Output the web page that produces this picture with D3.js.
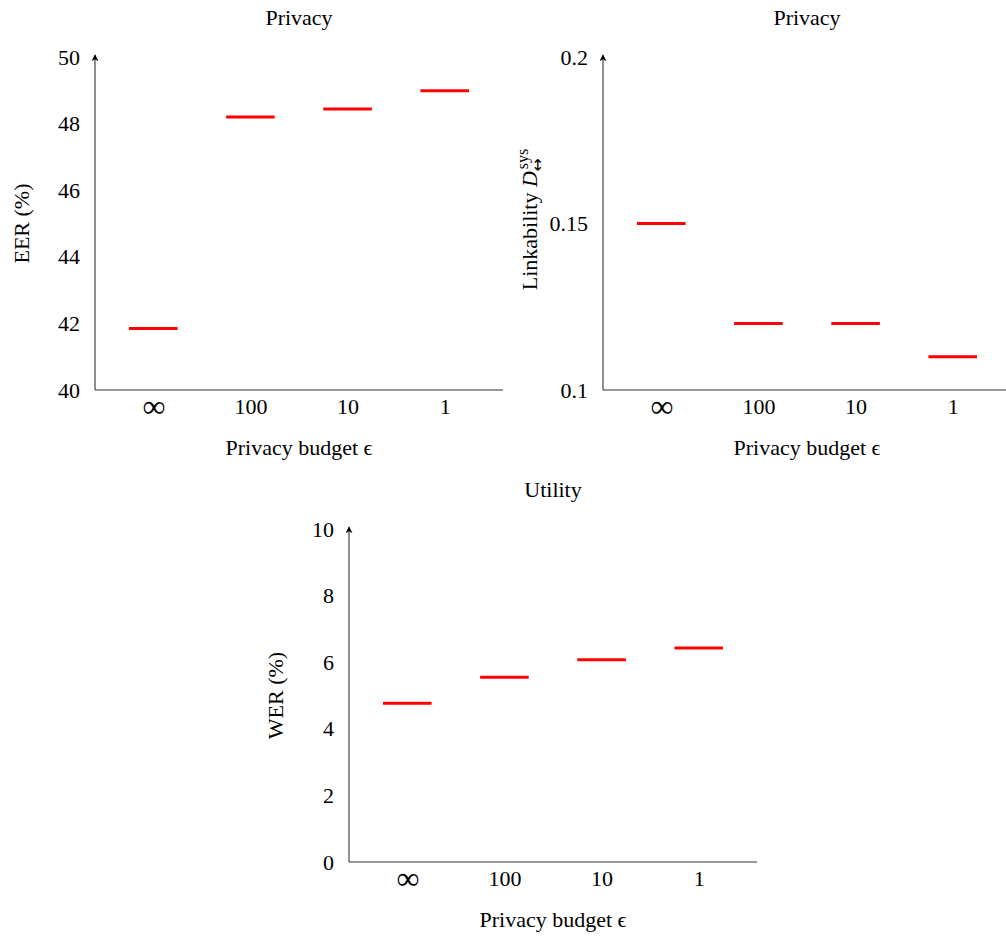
<!DOCTYPE html>
<html>
<head>
<meta charset="utf-8">
<script src="https://cdn.jsdelivr.net/npm/d3@7"></script>
<style>
  html, body { margin: 0; padding: 0; background: #fff; }
  svg { display: block; }
  text { font-family: "Liberation Serif", "DejaVu Serif", serif; fill: #000; }
</style>
</head>
<body>
<svg id="chart" width="1006" height="938"></svg>
<script>
// ---- data ----
const categories = ["\u221E", "100", "10", "1"];
const eerValues = [41.85, 48.2, 48.44, 48.99];
const linkValues = [0.15, 0.12, 0.12, 0.11];
const werValues = [4.77, 5.55, 6.07, 6.43];
const eerTicks = [40, 42, 44, 46, 48, 50];
const linkTicks = [0.1, 0.15, 0.2];
const werTicks = [0, 2, 4, 6, 8, 10];
const titles = ["Privacy", "Privacy", "Utility"];
const xLabel = "Privacy budget \u03F5";

const svg = d3.select("#chart");
const defs = svg.append("defs");
defs.append("marker")
  .attr("id", "arrow")
  .attr("viewBox", "0 0 10 10")
  .attr("refX", 9).attr("refY", 5)
  .attr("markerWidth", 7).attr("markerHeight", 7)
  .attr("markerUnits", "userSpaceOnUse")
  .attr("orient", "auto")
  .append("path")
  .attr("d", "M0,0 L10,5 L0,10 L3,5 Z")
  .attr("fill", "#000");

const W = 408, H = 333;

function drawPanel(opts) {
  const { left, bottom, values, domain, ticks, fmt, title, yLabel } = opts;
  const g = svg.append("g");
  const x = d3.scalePoint().domain(categories).range([left, left + W]).padding(0.6);
  const y = d3.scaleLinear().domain(domain).range([bottom, bottom - H]);

  // title
  g.append("text").attr("x", left + W / 2).attr("y", bottom - H - 32)
    .attr("text-anchor", "middle").attr("font-size", 22).text(title);

  // x axis
  const xa = g.append("g").attr("transform", `translate(0,${bottom})`)
    .call(d3.axisBottom(x).tickSize(0).tickPadding(8));
  xa.select(".domain").remove();
  xa.selectAll("text").attr("font-size", 22).attr("font-family", "Liberation Serif");
  xa.selectAll("text").filter(d => d === "\u221E")
    .attr("font-size", 32).attr("dy", "0.58em");
  g.append("line").attr("x1", left).attr("x2", left + W).attr("y1", bottom).attr("y2", bottom)
    .attr("stroke", "#333").attr("stroke-width", 1.1);

  // y axis
  const ya = g.append("g").attr("transform", `translate(${left},0)`)
    .call(d3.axisLeft(y).tickValues(ticks).tickFormat(fmt).tickSize(0).tickPadding(15));
  ya.select(".domain").remove();
  ya.selectAll("text").attr("font-size", 22).attr("font-family", "Liberation Serif");
  g.append("line").attr("x1", left).attr("x2", left).attr("y1", bottom).attr("y2", bottom - H - 2)
    .attr("stroke", "#333").attr("stroke-width", 1.1).attr("marker-end", "url(#arrow)");

  // x label
  g.append("text").attr("x", left + W / 2).attr("y", bottom + 65)
    .attr("text-anchor", "middle").attr("font-size", 22).text(xLabel);

  // y label
  const yl = g.append("text")
    .attr("transform", `translate(${left - 66},${bottom - H / 2}) rotate(-90)`)
    .attr("text-anchor", "middle").attr("font-size", 22);
  yLabel(yl);

  // marks
  const hw = x.step() * 0.25;
  g.selectAll("line.mark").data(values).enter().append("line")
    .attr("class", "mark")
    .attr("x1", (d, i) => x(categories[i]) - hw)
    .attr("x2", (d, i) => x(categories[i]) + hw)
    .attr("y1", d => y(d)).attr("y2", d => y(d))
    .attr("stroke", "#ff0000").attr("stroke-width", 3);
}

drawPanel({
  left: 95, bottom: 390, values: eerValues, domain: [40, 50], ticks: eerTicks,
  fmt: d3.format("d"), title: titles[0],
  yLabel: t => {
    t.text("EER (%)");
  }
});

drawPanel({
  left: 603, bottom: 390, values: linkValues, domain: [0.1, 0.2], ticks: linkTicks,
  fmt: d => String(+d.toFixed(2)), title: titles[1],
  yLabel: t => {
    t.attr("transform", `translate(${603 - 66},${390 - H / 2 - 4}) rotate(-90)`);
    t.append("tspan").text("Linkability ");
    t.append("tspan").attr("font-style", "italic").text("D");
    t.append("tspan").attr("font-size", 16).attr("dy", -9).attr("dx", 2).text("sys");
    t.append("tspan").attr("font-size", 16).attr("font-family", "DejaVu Sans")
      .attr("dy", 15).attr("dx", -23).text("\u2194");
  }
});

drawPanel({
  left: 349, bottom: 862, values: werValues, domain: [0, 10], ticks: werTicks,
  fmt: d3.format("d"), title: titles[2],
  yLabel: t => t.text("WER (%)")
});
</script>
</body>
</html>
